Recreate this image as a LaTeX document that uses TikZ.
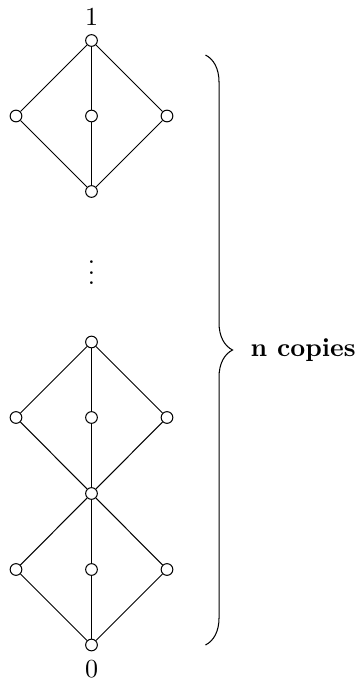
\documentclass[tikz,border=0pt]{standalone}
\usetikzlibrary{decorations.pathreplacing}
\begin{document}
\begin{tikzpicture}[x=0.3846pt,y=-0.3846pt,
  v/.style={circle,draw,line width=0.4pt,inner sep=0pt,minimum size=4.5pt,fill=white},
  e/.style={line width=0.4pt},
  lbl/.style={inner sep=0pt}]
\useasboundingbox (0,0) rectangle (359,683);
% diamond 1
\node[v] (a1) at (91.5,40.5) {};
\node[v] (a2) at (16,116) {};
\node[v] (a3) at (91.5,116) {};
\node[v] (a4) at (167,116) {};
\node[v] (a5) at (91.5,191.5) {};
% diamond 2
\node[v] (b1) at (91.5,342) {};
\node[v] (b2) at (16,417.5) {};
\node[v] (b3) at (91.5,417.5) {};
\node[v] (b4) at (167,417.5) {};
\node[v] (b5) at (91.5,493.5) {};
% diamond 3
\node[v] (c2) at (16,569.5) {};
\node[v] (c3) at (91.5,569.5) {};
\node[v] (c4) at (167,569.5) {};
\node[v] (c5) at (91.5,645) {};
\foreach \t/\l/\m/\r/\b in {a1/a2/a3/a4/a5, b1/b2/b3/b4/b5, b5/c2/c3/c4/c5}{
  \draw[e] (\t) -- (\l) -- (\b);
  \draw[e] (\t) -- (\m) -- (\b);
  \draw[e] (\t) -- (\r) -- (\b);
}
\node[lbl] (one) at (91.5,16.5) {1};
\node[lbl] (zero) at (91.5,669) {0};
\node[lbl] (dots) at (91.5,265) {$\vdots$};
\coordinate (bt) at (205.5,55);
\coordinate (bb) at (205.5,645);
\draw[e,decorate,decoration={brace,amplitude=10.4pt}] (bt) -- (bb);
\node[lbl,anchor=west] (nc) at (250,350) {\textbf{n copies}};
\end{tikzpicture}
\end{document}
